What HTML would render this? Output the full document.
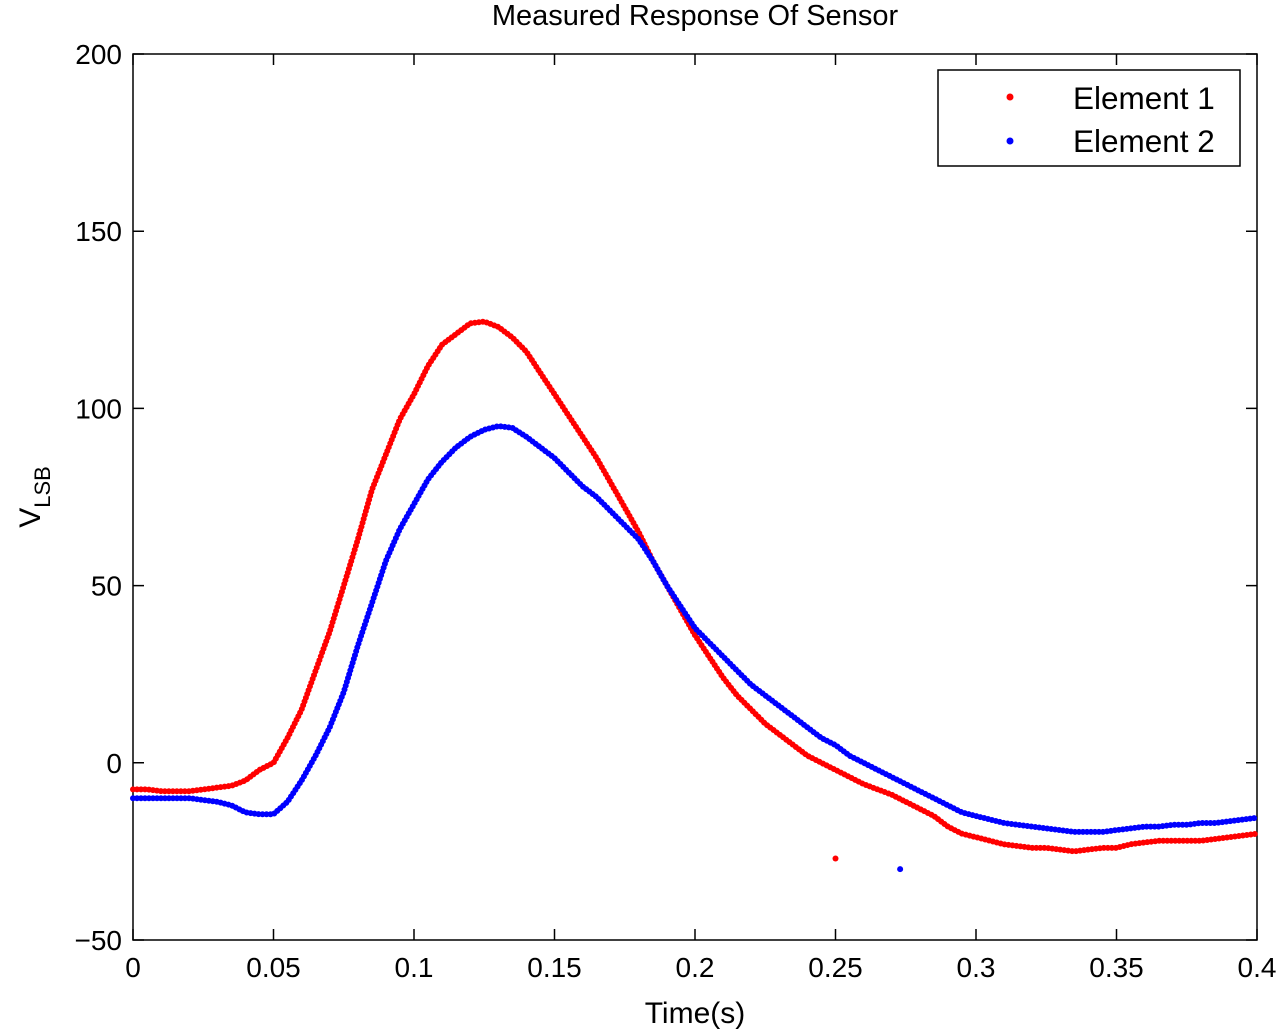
<!DOCTYPE html>
<html><head><meta charset="utf-8"><style>
body{margin:0;background:#fff}
svg{display:block;font-family:"Liberation Sans",Arial,sans-serif}
</style></head><body>
<svg id="chart" width="1281" height="1031" viewBox="0 0 1281 1031">
<text x="695" y="25" font-size="29" text-anchor="middle">Measured Response Of Sensor</text>
<rect x="133" y="54" width="1124" height="886" fill="none" stroke="#000" stroke-width="1.5"/>
<g id="axes"></g>
<g id="series"></g>
<text x="695" y="1023" font-size="30" text-anchor="middle">Time(s)</text>
<text transform="translate(40,497) rotate(-90)" font-size="30" text-anchor="middle">V<tspan font-size="22" dy="10">LSB</tspan></text>
<g>
<rect x="938" y="70" width="302" height="96" fill="#fff" stroke="#000" stroke-width="1.5"/>
<circle cx="1010" cy="97" r="3.5" fill="#f00"/>
<text x="1073" y="109" font-size="31.5">Element 1</text>
<circle cx="1010" cy="141" r="3.5" fill="#00f"/>
<text x="1073" y="152" font-size="31.5">Element 2</text>
</g>
</svg>
<script>
const xTicks=[0,0.05,0.1,0.15,0.2,0.25,0.3,0.35,0.4];
const xTickLabels=["0","0.05","0.1","0.15","0.2","0.25","0.3","0.35","0.4"];
const yTicks=[-50,0,50,100,150,200];
const yTickLabels=["\u221250","0","50","100","150","200"];
const timeStep=0.005;
const element1=[-7.5,-7.5,-8,-8,-8,-7.5,-7,-6.5,-5,-2,0,7,15,26,37,50,63,77,87,97,104,112,118,121,124,124.5,123,120,116,110,104,98,92,86,79,72,65,57,50,43,36,30,24,19,15,11,8,5,2,0,-2,-4,-6,-7.5,-9,-11,-13,-15,-18,-20,-21,-22,-23,-23.5,-24,-24,-24.5,-25,-24.5,-24,-24,-23,-22.5,-22,-22,-22,-22,-21.5,-21,-20.5,-20];
const element2=[-10,-10,-10,-10,-10,-10.5,-11,-12,-14,-14.5,-14.5,-11,-5,2,10,20,33,45,57,66,73,80,85,89,92,94,95,94.5,92,89,86,82,78,75,71,67,63,57,50,44,38,34,30,26,22,19,16,13,10,7,5,2,0,-2,-4,-6,-8,-10,-12,-14,-15,-16,-17,-17.5,-18,-18.5,-19,-19.5,-19.5,-19.5,-19,-18.5,-18,-18,-17.5,-17.5,-17,-17,-16.5,-16,-15.5];
const outlierTimes=[0.25,0.273];
const outlierValues=[-27,-30];
const NS="http://www.w3.org/2000/svg";
const X=t=>133+t/0.4*1124;
const Y=v=>54+(200-v)/250*886;
const axes=document.getElementById('axes');
const series=document.getElementById('series');
function mk(tag,attrs,parent){const e=document.createElementNS(NS,tag);for(const k in attrs)e.setAttribute(k,attrs[k]);parent.appendChild(e);return e;}
xTicks.forEach((t,i)=>{
  let l=mk('path',{d:`M${X(t)},940v-11M${X(t)},54v11`,stroke:'#000','stroke-width':1.5},axes);
  
  
  let tx=mk('text',{x:X(t),y:977,'font-size':28,'text-anchor':'middle'},axes);
  tx.textContent=xTickLabels[i];
  
  
});
yTicks.forEach((v,i)=>{
  let l=mk('path',{d:`M133,${Y(v)}h11M1257,${Y(v)}h-11`,stroke:'#000','stroke-width':1.5},axes);
  
  
  let tx=mk('text',{x:122,y:Y(v)+10,'font-size':28,'text-anchor':'end'},axes);
  tx.textContent=yTickLabels[i];
  
  
});
function drawSeries(vals,color,name){
  const pts=vals.map((v,i)=>X(i*timeStep).toFixed(1)+','+Y(v).toFixed(1)).join(' ');
  let p=mk('polyline',{points:pts,fill:'none',stroke:color,'stroke-width':6,'stroke-linecap':'round','stroke-dasharray':'0 4'},series);
  
  
}
drawSeries(element1,'#f00','element-1');
drawSeries(element2,'#00f','element-2');
['#f00','#00f'].forEach((c,i)=>{
  let o=mk('circle',{cx:X(outlierTimes[i]),cy:Y(outlierValues[i]),r:3,fill:c},series);
  
  
});
</script>
</body></html>
